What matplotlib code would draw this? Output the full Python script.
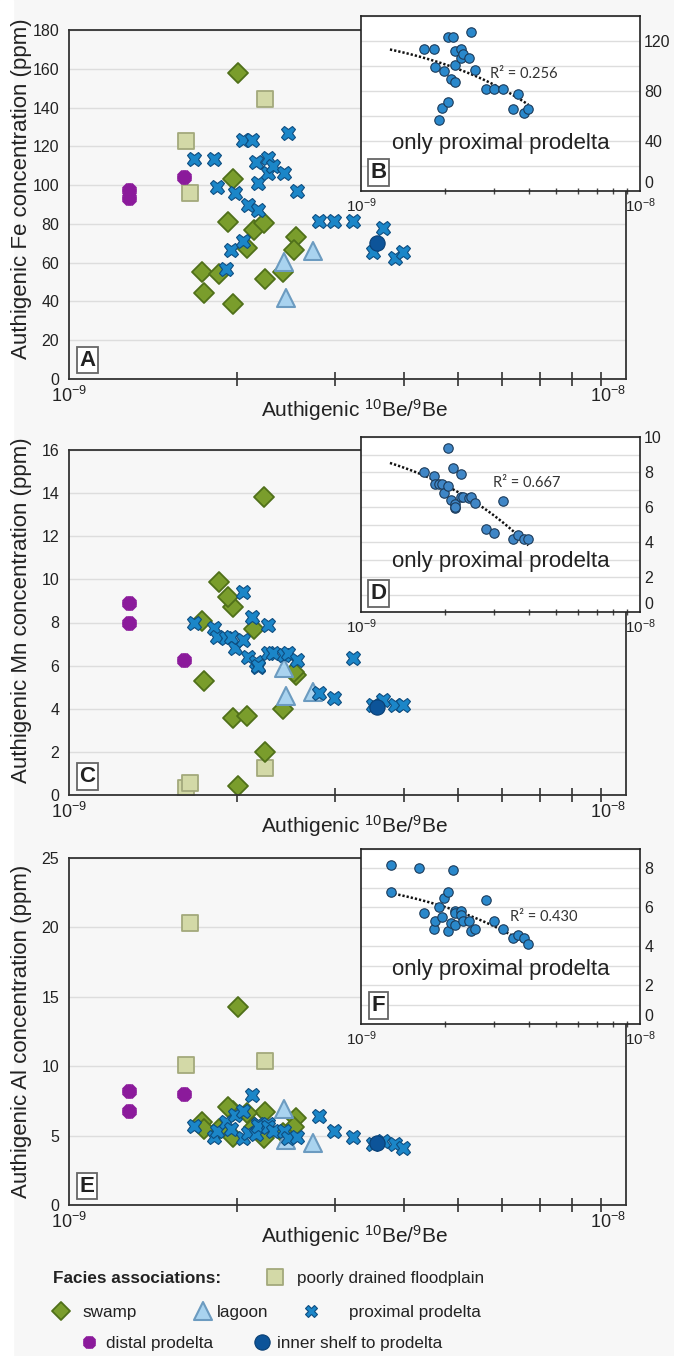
import numpy as np
import matplotlib
matplotlib.use("Agg")
import matplotlib.pyplot as plt
from matplotlib.markers import MarkerStyle
from matplotlib.patches import Rectangle
from matplotlib.ticker import FixedLocator, NullFormatter, MultipleLocator

plt.rcParams.update({
    "font.family": ["Liberation Sans", "DejaVu Sans"],
    "mathtext.fontset": "custom",
    "mathtext.rm": "Liberation Sans",
    "mathtext.it": "Liberation Sans:italic",
    "mathtext.bf": "Liberation Sans:bold",
})

# ---------------- data (10Be/9Be in units of 1e-9, concentrations in ppm) ----
swamp_x = [2.01, 1.97, 1.97, 1.93, 2.15, 2.24, 2.25, 2.09, 2.56, 2.54, 1.73, 1.86, 1.75, 2.42]
swamp_fe = [158, 103, 38.8, 81, 77, 80.6, 51.7, 67.7, 73, 66.7, 55.3, 54.3, 44.4, 55.3]
swamp_mn = [0.42, 8.7, 3.57, 9.2, 7.7, 13.8, 2.0, 3.66, 5.57, 5.7, 8.07, 9.9, 5.3, 4.0]
swamp_al = [14.3, 6.8, 4.9, 7.05, 5.6, 4.8, 6.7, 6.6, 6.25, 5.6, 6.0, 5.5, 5.5, 5.2]

flood_x = [2.25, 1.62, 1.65]
flood_fe = [144.5, 123, 96]
flood_mn = [1.25, 0.33, 0.55]
flood_al = [10.4, 10.1, 20.3]

lagoon_x = [2.74, 2.43, 2.45]
lagoon_fe = [66, 60.5, 41.8]
lagoon_mn = [4.8, 5.9, 4.6]
lagoon_al = [4.5, 6.9, 4.7]

distal_x = [1.28, 1.28, 1.61]
distal_fe = [97.7, 93.5, 104.4]
distal_mn = [8.9, 8.0, 6.26]
distal_al = [8.2, 6.8, 8.0]

shelf_x = [3.57]
shelf_fe = [70]
shelf_mn = [4.1]
shelf_al = [4.45]

prox_x = [1.68, 1.82, 1.84, 1.91, 1.95, 1.99, 2.05, 2.05, 2.10, 2.13, 2.17, 2.18, 2.18,
          2.28, 2.28, 2.32, 2.43, 2.47, 2.57, 2.81, 2.99, 3.24, 3.51, 3.66, 3.85, 3.98]
prox_fe = [113.5, 113.5, 99, 56.8, 66.7, 96, 123.5, 71, 90, 123.5, 112, 101, 87,
           114, 106.5, 110, 106.5, 127, 97, 81.7, 81.7, 81.7, 65.6, 78, 62.5, 65.6]
prox_mn = [8.0, 7.75, 7.33, 7.3, 7.33, 6.8, 9.4, 7.2, 6.4, 8.25, 6.15, 5.95, 6.0,
           7.9, 6.6, 6.6, 6.5, 6.6, 6.25, 4.73, 4.5, 6.35, 4.17, 4.4, 4.17, 4.17]
prox_al = [5.7, 4.9, 5.3, 6.0, 5.5, 6.5, 6.8, 4.8, 5.2, 7.9, 5.1, 5.8, 5.7,
           5.8, 5.6, 5.3, 5.3, 4.8, 4.9, 6.4, 5.3, 4.9, 4.4, 4.6, 4.4, 4.1]

r2_labels = ["R² = 0.256", "R² = 0.667", "R² = 0.430"]
trend_start = 1.27

W, H = 674, 1356
bg = "#f7f7f7"

c_swamp, e_swamp = "#7a9d2c", "#50701a"
c_flood, e_flood = "#d3d9a7", "#a3a97c"
c_lagoon, e_lagoon = "#a9d3ef", "#6c9bc0"
c_prox, e_prox = "#1b86c8", "#0e4d80"
c_distal = "#8b1a9b"
c_shelf = "#0d5499"
c_dot, e_dot = "#2a88cb", "#1c3b5a"

diamond = MarkerStyle("D", joinstyle="round")
square = MarkerStyle("s", joinstyle="round")
triangle = MarkerStyle("^", joinstyle="round")

styles = {
    "flood": dict(marker=square, ms=12, mfc=c_flood, mec=e_flood, mew=1.3),
    "swamp": dict(marker=diamond, ms=10, mfc=c_swamp, mec=e_swamp, mew=1.3),
    "lagoon": dict(marker=triangle, ms=12.5, mfc=c_lagoon, mec=e_lagoon, mew=1.5),
    "prox": dict(marker="X", ms=10.5, mfc=c_prox, mec=e_prox, mew=0.8),
    "shelf": dict(marker="o", ms=11, mfc=c_shelf, mec="#0a3f73", mew=0.8),
}


def rect(l, t, r, b):
    return [l / W, 1 - b / H, (r - l) / W, (b - t) / H]


def draw_distal(ax, x, y, ms=9.5, **kw):
    ax.plot(x, y, ls="none", marker="P", ms=ms, mfc=c_distal, mec=c_distal, mew=0.5, **kw)
    ax.plot(x, y, ls="none", marker="X", ms=ms, mfc=c_distal, mec=c_distal, mew=0.5, **kw)


fig = plt.figure(figsize=(W / 100, H / 100), dpi=100, facecolor=bg)
fig.patches.append(Rectangle((0, 0), 13 / W, 1, transform=fig.transFigure,
                             color="white", zorder=-10))

panels = [
    dict(main=(69, 30, 626, 379), inset=(361, 16, 640, 191), ymax=180, ystep=20,
         iymax=140, iystep=40, igrid=20, el="Fe", letters=("A", "B"),
         ylab_y=189, r2_pos=(0.462, 0.67), txt_y=0.27, dot=c_dot,
         data=(swamp_fe, flood_fe, lagoon_fe, distal_fe, shelf_fe, prox_fe),
         inset_with_distal=False),
    dict(main=(69, 450, 626, 795), inset=(361, 437, 640, 612), ymax=16, ystep=2,
         iymax=10, iystep=2, igrid=1, el="Mn", letters=("C", "D"),
         ylab_y=610, r2_pos=(0.473, 0.74), txt_y=0.29, dot="#3f86c6",
         data=(swamp_mn, flood_mn, lagoon_mn, distal_mn, shelf_mn, prox_mn),
         inset_with_distal=False),
    dict(main=(69, 858, 626, 1205), inset=(361, 849, 640, 1024), ymax=25, ystep=5,
         iymax=9, iystep=2, igrid=1, el="Al", letters=("E", "F"),
         ylab_y=1031, r2_pos=(0.534, 0.61), txt_y=0.313, dot=c_dot,
         data=(swamp_al, flood_al, lagoon_al, distal_al, shelf_al, prox_al),
         inset_with_distal=True),
]

box_style = dict(boxstyle="square,pad=0.12", fc="white", ec="#666666", lw=1.3)

for k, p in enumerate(panels):
    sw, fl, lg, di, sh, pr = p["data"]
    l, t, r, b = p["main"]

    # ---------------- main panel ----------------
    ax = fig.add_axes(rect(*p["main"]))
    ax.set_facecolor(bg)
    ax.set_xscale("log")
    ax.set_xlim(1e-9, 1e-8)
    ax.set_ylim(0, p["ymax"])
    ax.set_yticks(np.arange(0, p["ymax"] + 0.01, p["ystep"]))
    ax.yaxis.grid(True, color="#dddddd", lw=1)
    ax.set_axisbelow(True)
    ax.tick_params(axis="y", length=0, pad=7, labelsize=11.5, labelcolor="#222222")
    ax.set_xticks([1e-9, 1e-8], [r"$10^{-9}$", r"$10^{-8}$"])
    ax.get_xticklabels()[1].set_ha("right")
    ax.xaxis.set_minor_locator(FixedLocator(np.arange(2, 10) * 1e-9))
    ax.xaxis.set_minor_formatter(NullFormatter())
    ax.tick_params(axis="x", which="major", length=0, pad=5, labelsize=13,
                   labelcolor="#222222")
    ax.tick_params(axis="x", which="minor", direction="inout", length=10,
                   width=1.2, color="#333333")
    for s in ax.spines.values():
        s.set_color("#333333")
        s.set_linewidth(1.3)

    ax.plot(np.array(flood_x) * 1e-9, fl, ls="none", **styles["flood"])
    ax.plot(np.array(swamp_x) * 1e-9, sw, ls="none", **styles["swamp"])
    ax.plot(np.array(lagoon_x) * 1e-9, lg, ls="none", **styles["lagoon"])
    draw_distal(ax, np.array(distal_x) * 1e-9, di)
    ax.plot(np.array(prox_x) * 1e-9, pr, ls="none", **styles["prox"])
    ax.plot(np.array(shelf_x) * 1e-9, sh, ls="none", **styles["shelf"])

    ax.text(0.033, 0.054, p["letters"][0], transform=ax.transAxes, ha="center",
            va="center", fontsize=16, fontweight="bold", color="#222222", bbox=box_style)

    fig.text(22 / W, 1 - p["ylab_y"] / H, f"Authigenic {p['el']} concentration (ppm)",
             rotation=90, ha="center", va="center", fontsize=16, color="#222222")
    fig.text(355 / W, 1 - (b + 38) / H, r"Authigenic $^{10}$Be/$^{9}$Be",
             ha="center", va="baseline", fontsize=15, color="#222222")

    # ---------------- inset: proximal prodelta only ----------------
    ix = list(prox_x)
    iy = list(pr)
    if p["inset_with_distal"]:
        ix = list(distal_x) + ix
        iy = list(di) + iy
    ix = np.array(ix)
    iy = np.array(iy)

    axi = fig.add_axes(rect(*p["inset"]))
    axi.set_facecolor("white")
    axi.set_xscale("log")
    axi.set_xlim(1e-9, 1e-8)
    axi.set_ylim(0, p["iymax"])
    axi.yaxis.tick_right()
    axi.set_yticks(np.arange(0, p["iymax"] + 0.01, p["iystep"]))
    axi.yaxis.set_minor_locator(MultipleLocator(p["igrid"]))
    axi.grid(axis="y", which="both", color="#dddddd", lw=1)
    axi.set_axisbelow(True)
    axi.tick_params(axis="y", which="both", length=0, pad=3, labelsize=11.5,
                    labelcolor="#222222")
    axi.get_yticklabels()[0].set_va("bottom")
    axi.set_xticks([1e-9, 1e-8], [r"$10^{-9}$", r"$10^{-8}$"])
    axi.xaxis.set_minor_locator(FixedLocator(np.arange(2, 10) * 1e-9))
    axi.xaxis.set_minor_formatter(NullFormatter())
    axi.tick_params(axis="x", which="major", length=0, pad=4, labelsize=11,
                    labelcolor="#222222")
    axi.tick_params(axis="x", which="minor", direction="inout", length=5,
                    width=1, color="#444444")
    for s in axi.spines.values():
        s.set_color("#222222")
        s.set_linewidth(1.2)

    slope, icpt = np.polyfit(ix, iy, 1)
    xs = np.linspace(trend_start, ix.max(), 80)
    axi.plot(xs * 1e-9, slope * xs + icpt, color="#111111", lw=1.8,
             dashes=(0.9, 0.8), zorder=3)
    axi.plot(ix * 1e-9, iy, ls="none", marker="o", ms=6.8, mfc=p["dot"],
             mec=e_dot, mew=0.8, zorder=4)

    axi.text(p["r2_pos"][0], p["r2_pos"][1], r2_labels[k], transform=axi.transAxes,
             ha="left", va="center", fontsize=10.5, color="#333333",
             family=["Lato", "DejaVu Sans"], zorder=5)
    axi.text(0.5, p["txt_y"], "only proximal prodelta", transform=axi.transAxes,
             ha="center", va="center", fontsize=16, color="#222222", zorder=5)
    axi.text(0.063, 0.105, p["letters"][1], transform=axi.transAxes, ha="center",
             va="center", fontsize=16, fontweight="bold", color="#222222",
             bbox=box_style, zorder=5)

# ---------------- legend ----------------
def leg_marker(xp, yp, draw):
    lax = fig.add_axes([xp / W - 0.02, 1 - yp / H - 0.01, 0.04, 0.02])
    lax.set_xlim(-1, 1)
    lax.set_ylim(-1, 1)
    lax.axis("off")
    draw(lax)


def leg_text(xp, yp, s, **kw):
    fig.text(xp / W, 1 - yp / H, s, ha="left", va="center_baseline", fontsize=12.3,
             color="#222222", **kw)


leg_text(53, 1277, "Facies associations:", fontweight="bold")
leg_marker(275, 1277, lambda a: a.plot([0], [0], ls="none", **styles["flood"]))
leg_text(297, 1277, "poorly drained floodplain")

leg_marker(61, 1311, lambda a: a.plot([0], [0], ls="none", **dict(styles["swamp"], ms=9)))
leg_text(82, 1311, "swamp")
leg_marker(203, 1311, lambda a: a.plot([0], [0], ls="none", **styles["lagoon"]))
leg_text(217, 1311, "lagoon")
leg_marker(311, 1311, lambda a: a.plot([0], [0], ls="none",
                                       **dict(styles["prox"], ms=8)))
leg_text(349, 1311, "proximal prodelta")

leg_marker(89, 1342, lambda a: draw_distal(a, [0], [0], ms=8))
leg_text(106, 1342, "distal prodelta")
leg_marker(262, 1342, lambda a: a.plot([0], [0], ls="none", **styles["shelf"]))
leg_text(277, 1342, "inner shelf to prodelta")

fig.savefig("out.png", dpi=100, facecolor=fig.get_facecolor())
